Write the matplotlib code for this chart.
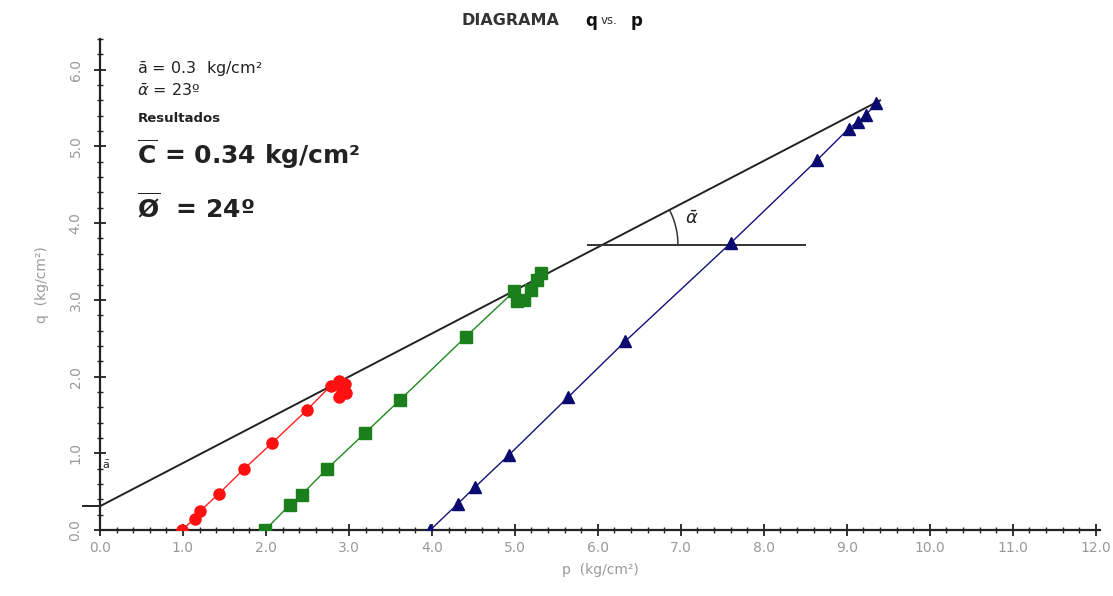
import numpy as np
import matplotlib
matplotlib.use('Agg')
import matplotlib.pyplot as plt
from matplotlib.ticker import MultipleLocator

p_rojo = [0.99, 1.14, 1.21, 1.43, 1.73, 2.07, 2.50, 2.78, 2.88, 2.95, 2.92, 2.97, 2.88]
q_rojo = [0.00, 0.15, 0.25, 0.47, 0.79, 1.13, 1.57, 1.88, 1.94, 1.90, 1.83, 1.78, 1.73]

p_verde = [1.99, 2.29, 2.43, 2.73, 3.19, 3.62, 4.41, 4.99, 5.11, 5.03, 5.19, 5.27, 5.31]
q_verde = [0.00, 0.33, 0.46, 0.79, 1.26, 1.70, 2.52, 3.11, 3.00, 2.98, 3.13, 3.26, 3.35]

p_azul = [3.98, 4.31, 4.52, 4.93, 5.64, 6.33, 7.60, 8.64, 9.02, 9.13, 9.23, 9.35]
q_azul = [0.00, 0.34, 0.56, 0.98, 1.73, 2.46, 3.74, 4.82, 5.23, 5.32, 5.41, 5.56]

# Envolvente (linha de ruptura)
p_env = [0.0, 9.4]
q_env = [0.31, 5.6]

# Linha horizontal de referência do ângulo
p_hor = [5.88, 8.5]
q_hor = [3.72, 3.72]

x_ticks = np.arange(0, 12.1, 1.0)
y_ticks = np.arange(0, 6.1, 1.0)

fig = plt.figure(figsize=(11.13, 5.96), dpi=100)
ax = fig.add_axes([0.0898, 0.1107, 0.8985, 0.8239])

ax.plot(p_env, q_env, color='#222222', lw=1.4, zorder=2)
ax.plot(p_hor, q_hor, color='#333333', lw=1.4, zorder=2)

ax.plot(p_rojo, q_rojo, color='#ff2020', lw=1, marker='o', ms=8,
        mfc='#ff1010', mec='#ff1010', zorder=3)
ax.plot(p_verde, q_verde, color='#1f8a1f', lw=1, marker='s', ms=8,
        mfc='#1b7f1b', mec='#1b7f1b', zorder=3)
ax.plot(p_azul, q_azul, color='#10107a', lw=1, marker='^', ms=8,
        mfc='#0a0a70', mec='#0a0a70', zorder=3)

# Arco do ângulo alfa
pend = (q_env[1] - q_env[0]) / (p_env[1] - p_env[0])
pc = (q_hor[0] - q_env[0]) / pend
ang = np.arctan2(pend * 76.7, 82.9)
t = np.linspace(0, ang, 40)
ax.plot(pc + 0.905 * np.cos(t), q_hor[0] + 0.98 * np.sin(t), color='#333333', lw=1.1)
ax.text(7.05, 4.05, r'$\bar{\alpha}$', fontsize=13, color='#222222', va='center')

# Marca do intercepto no eixo q
ax.plot([-0.2, 0], [q_env[0], q_env[0]], color='#222222', lw=1.4, clip_on=False)
ax.text(0.02, 0.85, r'$\bar{\mathrm{a}}$', fontsize=8, color='#222222', va='center')

ax.set_xlim(0, 12.05)
ax.set_ylim(0, 6.4)
ax.set_xticks(x_ticks)
ax.set_yticks(y_ticks)
ax.set_xticklabels(['%.1f' % v for v in x_ticks])
ax.set_yticklabels(['%.1f' % v for v in y_ticks], rotation=90, va='center')
ax.xaxis.set_minor_locator(MultipleLocator(0.2))
ax.yaxis.set_minor_locator(MultipleLocator(0.2))
ax.tick_params(which='major', direction='inout', length=9, width=1.3,
               labelsize=10, labelcolor='#999999', color='#222222')
ax.tick_params(which='minor', direction='inout', length=5, width=1, color='#222222')
ax.tick_params(axis='y', pad=8)

for s in ['top', 'right']:
    ax.spines[s].set_visible(False)
for s in ['left', 'bottom']:
    ax.spines[s].set_linewidth(1.6)
    ax.spines[s].set_color('#222222')

ax.set_xlabel('p  (kg/cm²)', fontsize=10, color='#999999', labelpad=6)
ax.set_ylabel('q  (kg/cm²)', fontsize=10, color='#999999', labelpad=14)

# Textos de parâmetros
ax.text(0.45, 6.0, r'$\bar{\mathrm{a}}$ = 0.3  kg/cm²', fontsize=11.5, color='#222222', va='center')
ax.text(0.45, 5.72, r'$\bar{\alpha}$ = 23º', fontsize=11.5, color='#222222', va='center')
ax.text(0.45, 5.37, 'Resultados', fontsize=9.5, fontweight='bold', color='#222222', va='center')
ax.text(0.45, 4.9, r'$\overline{\mathbf{C}}$ = 0.34 kg/cm²', fontsize=18, fontweight='bold',
        color='#222222', va='center')
ax.text(0.45, 4.2, r'$\overline{\mathbf{Ø}}$  = 24º', fontsize=18, fontweight='bold',
        color='#222222', va='center')

# Título
fig.text(0.415, 0.965, 'DIAGRAMA', fontsize=11.5, fontweight='bold', color='#333333', va='center')
fig.text(0.526, 0.965, 'q', fontsize=12, fontweight='bold', color='#111111', va='center')
fig.text(0.540, 0.965, 'vs.', fontsize=8.5, color='#333333', va='center')
fig.text(0.567, 0.965, 'p', fontsize=12, fontweight='bold', color='#111111', va='center')

fig.savefig('out.png', dpi=100)
